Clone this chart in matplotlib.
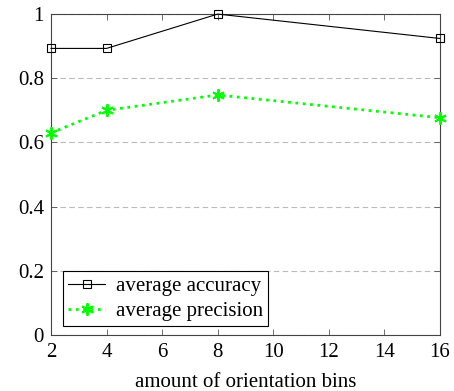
import numpy as np
import matplotlib
matplotlib.use("Agg")
import matplotlib.pyplot as plt

bins = [2, 4, 8, 16]
accuracy = [0.893, 0.893, 1.0, 0.924]
precision = [0.63, 0.70, 0.748, 0.677]

plt.rcParams['font.family'] = ['Liberation Serif', 'DejaVu Serif']

fig = plt.figure(figsize=(4.54, 3.91), dpi=100)
ax = fig.add_axes([0.1123, 0.1432, 0.969 - 0.1123, 0.964 - 0.1432])

ax.plot(bins, accuracy, '-', color='black', lw=0.8, marker='s', ms=6,
        mfc='none', mec='black', mew=0.8, label='average accuracy', clip_on=False, zorder=3)
ax.plot(bins, precision, ':', color='#00ff00', lw=2.0, marker=(6, 2, 0), ms=9,
        mec='#00ff00', mew=1.4, label='average precision', clip_on=False, zorder=3)

ax.set_xlim(2, 16)
ax.set_ylim(0, 1)
ax.set_xticks(np.arange(2, 17, 2))
ax.set_yticks([0, 0.2, 0.4, 0.6, 0.8, 1])
ax.set_yticklabels(['0', '0.2', '0.4', '0.6', '0.8', '1'])
ax.yaxis.grid(True, linestyle=(0, (5, 3)), color='#bbbbbb', lw=0.8)
ax.tick_params(direction='in', top=True, right=True, labelsize=15, length=4,
               width=0.6, color='#555555')
ax.tick_params(axis='x', pad=6)
ax.tick_params(axis='y', pad=5)
for s in ax.spines.values():
    s.set_color('#444444')
    s.set_linewidth(0.8)
ax.set_xlabel('amount of orientation bins', fontsize=15, labelpad=8)

leg = ax.legend(loc='lower left', bbox_to_anchor=(0.03, 0.028), fontsize=15,
                fancybox=False, edgecolor='black', framealpha=1,
                handlelength=1.8, borderpad=0.25, labelspacing=0.25, handletextpad=0.5,
                borderaxespad=0.0)
leg.get_frame().set_linewidth(0.8)

fig.savefig('out.png', dpi=100)
